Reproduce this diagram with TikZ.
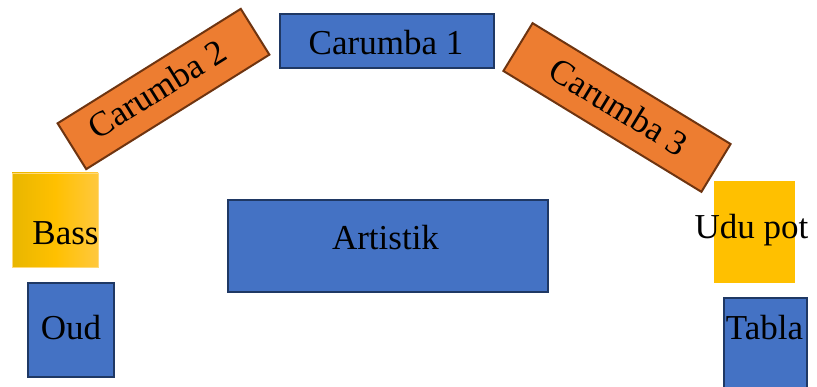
\documentclass[tikz,border=0pt]{standalone}
\usepackage{fontspec}
\setmainfont{Liberation Serif}
\definecolor{bfill}{HTML}{4472C4}
\definecolor{bdraw}{HTML}{1F3864}
\definecolor{ofill}{HTML}{ED7D31}
\definecolor{odraw}{HTML}{6E3410}
\definecolor{yfill}{HTML}{FFC000}
\definecolor{yleft}{HTML}{E8B600}
\definecolor{yright}{HTML}{FFC83E}
\begin{document}
\begin{tikzpicture}[x=1pt,y=-1pt,
  every node/.style={font=\fontsize{35}{40}\selectfont, inner sep=0pt},
  bluebox/.style={draw=bdraw, fill=bfill, line width=2pt},
  orangebox/.style={draw=odraw, fill=ofill, line width=2pt},
  yellowbox/.style={fill=yfill},
  label/.style={text=black}]
\useasboundingbox (0,0) rectangle (817,387);
\node[bluebox, minimum width=214pt, minimum height=54pt] (c1) at (387,41) {};
\node[label] (c1t) at (386,43) {Carumba 1};
\node[orangebox, minimum width=216pt, minimum height=54pt, rotate=32] (c2) at (163.5,89) {};
\node[label, rotate=32] (c2t) at (157,89) {Carumba 2};
\node[orangebox, minimum width=232pt, minimum height=56pt, rotate=-31.4] (c3) at (617,107.5) {};
\node[label, rotate=-31.4] (c3t) at (619,107) {Carumba 3};
\node[bluebox, minimum width=320pt, minimum height=92pt] (art) at (388,246) {};
\node[label] (artt) at (385.5,238) {Artistik};
\node[draw=yright!70!white, line width=0.8pt, left color=yleft, right color=yright, middle color=yfill, minimum width=86pt, minimum height=94pt] (bass) at (55,220) {};
\node[label] (basst) at (65.5,233) {Bass};
\node[bluebox, minimum width=86pt, minimum height=94pt] (oud) at (71,330) {};
\node[label] (oudt) at (71,328) {Oud};
\node[yellowbox, minimum width=81pt, minimum height=102pt] (udu) at (754.5,232) {};
\node[label] (udut) at (751.5,230) {Udu pot};
\node[bluebox, minimum width=83pt, minimum height=96pt] (tab) at (765.5,346) {};
\node[label] (tabt) at (764.5,328) {Tabla};
\end{tikzpicture}
\end{document}
